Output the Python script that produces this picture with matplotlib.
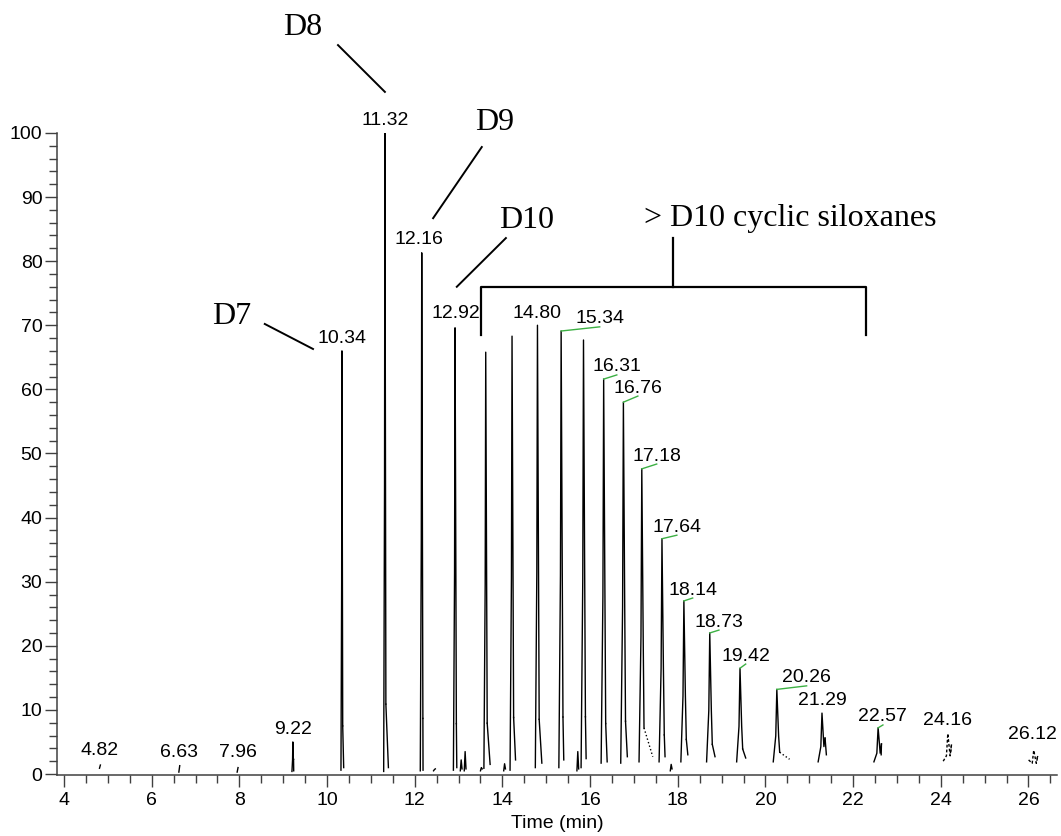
import numpy as np
import matplotlib.pyplot as plt
from matplotlib.ticker import MultipleLocator

# Retention times (min) and relative abundance (%) of the peaks
peak_rt = [4.82, 6.63, 7.96, 9.22, 10.34, 11.32, 12.16, 12.92, 13.62, 14.22,
           14.80, 15.34, 15.85, 16.31, 16.76, 17.18, 17.64, 18.14, 18.73,
           19.42, 20.26, 21.29, 22.57, 24.16, 26.12]
peak_top = [1.4, 1.3, 1.0, 5.0, 66.0, 100.0, 81.3, 69.6, 65.8, 68.3,
            70.0, 69.1, 67.7, 61.6, 58.0, 47.6, 36.7, 27.0, 22.0,
            16.5, 13.2, 9.5, 7.2, 6.3, 3.7]
# baseline level left of the peak, and where the tail ends (dt, level)
peak_base = [0.9, 0.3, 0.3, 0.4, 0.6, 0.4, 0.5, 0.6, 0.9, 0.6,
             1.0, 1.0, 1.0, 1.7, 1.7, 1.9, 1.9, 1.9, 1.9,
             1.9, 1.9, 1.9, 1.9, 2.0, 2.2]
tail_dt = [0.01, 0.01, 0.01, 0.02, 0.04, 0.08, 0.03, 0.04, 0.10, 0.08,
           0.10, 0.06, 0.06, 0.08, 0.09, 0.25, 0.07, 0.09, 0.12,
           0.13, 0.29, 0.10, 0.07, 0.07, 0.06]
tail_y = [1.3, 1.2, 0.9, 0.5, 1.0, 1.0, 0.6, 1.0, 1.5, 2.2,
          1.7, 2.2, 2.4, 1.9, 2.7, 2.7, 2.7, 3.0, 2.7,
          2.5, 2.3, 3.0, 3.0, 3.5, 2.2]
dotted_tail = [17.18, 20.26]
dashed_peak = [24.16, 26.12]

# small unlabelled bumps
minor_rt = [12.45, 13.06, 13.15, 13.52, 14.05, 15.72, 17.85]
minor_top = [0.7, 2.2, 3.5, 1.0, 1.6, 3.5, 1.5]

# labelled peaks: text and label centre (data coords)
label_text = ['4.82', '6.63', '7.96', '9.22', '10.34', '11.32', '12.16', '12.92',
              '14.80', '15.34', '16.31', '16.76', '17.18', '17.64', '18.14',
              '18.73', '19.42', '20.26', '21.29', '22.57', '24.16', '26.12']
label_x = [4.82, 6.62, 7.97, 9.22, 10.34, 11.32, 12.10, 12.94,
           14.79, 16.22, 16.61, 17.09, 17.52, 17.98, 18.34,
           18.94, 19.55, 20.94, 21.29, 22.68, 24.16, 26.10]
label_y = [3.6, 3.4, 3.3, 7.0, 67.9, 102.0, 83.3, 71.8,
           71.9, 71.0, 63.5, 60.2, 49.6, 38.5, 28.7,
           23.7, 18.4, 15.0, 11.5, 8.9, 8.3, 6.1]
green_leader = ['15.34', '16.31', '16.76', '17.18', '17.64', '18.14',
                '18.73', '19.42', '20.26', '22.57']

fig = plt.figure(figsize=(10.61, 8.36), dpi=100)
ax = fig.add_axes([0.0537, 0.073, 0.9425, 0.768])

sans = 'Liberation Sans'
serif = 'Liberation Serif'

for rt, top, base, dt, ty in zip(peak_rt, peak_top, peak_base, tail_dt, tail_y):
    w = 0.02 + 0.006 * max(rt - 10, 0)
    if top < 2:
        ax.plot([rt - 0.01, rt + 0.01], [base, top], color='black', lw=1.0)
        continue
    shoulder = ty + 0.1 * (top - ty) if top > 10 else ty + 0.4 * (top - ty)
    xs = [rt - w, rt - 0.3 * w, rt, rt + 0.5 * w, rt + 0.8 * w]
    ys = [base, 0.45 * top, top, 0.45 * top, shoulder]
    ls = (0, (2, 1.5)) if rt in dashed_peak else '-'
    ax.plot(xs, ys, color='black', lw=1.0, ls=ls)
    tls = ':' if rt in dotted_tail else ls
    ax.plot([rt + 0.8 * w, rt + dt], [shoulder, ty], color='black', lw=1.0, ls=tls)

for rt, top in zip(minor_rt, minor_top):
    ax.plot([rt - 0.02, rt, rt + 0.02], [0.5, top, 0.8], color='black', lw=1.0)

for txt, lx, ly in zip(label_text, label_x, label_y):
    ax.text(lx, ly, txt, ha='center', va='center', fontsize=14,
            family=sans, clip_on=False)
    if txt in green_leader:
        i = peak_rt.index(float(txt))
        ax.plot([peak_rt[i], lx], [peak_top[i], ly - 1.25],
                color='#3cb043', lw=1.0, clip_on=False)

# compound annotations
line_kw = dict(color='black', lw=1.4, clip_on=False)
ax.plot([8.58, 9.68], [70.2, 66.3], **line_kw)
ax.text(7.83, 71.3, 'D7', ha='center', va='center', fontsize=23, family=serif)
ax.plot([10.25, 11.32], [113.7, 106.4], **line_kw)
ax.text(9.45, 116.4, 'D8', ha='center', va='center', fontsize=23, family=serif,
        clip_on=False)
ax.plot([13.53, 12.42], [97.8, 86.7], **line_kw)
ax.text(13.83, 101.6, 'D9', ha='center', va='center', fontsize=23, family=serif,
        clip_on=False)
ax.plot([14.08, 12.96], [83.6, 76.0], **line_kw)
ax.text(14.56, 86.4, 'D10', ha='center', va='center', fontsize=23, family=serif)

ax.plot([13.51, 13.51, 22.29, 22.29], [68.5, 76.0, 76.0, 68.5],
        color='black', lw=1.6, clip_on=False)
ax.plot([17.89, 17.89], [76.0, 83.6], color='black', lw=1.6)
ax.text(20.56, 86.7, '> D10 cyclic siloxanes', ha='center', va='center',
        fontsize=23, family=serif)

ax.set_xlim(3.84, 26.65)
ax.set_ylim(-0.15, 100)
ax.xaxis.set_major_locator(MultipleLocator(2))
ax.xaxis.set_minor_locator(MultipleLocator(0.5))
ax.yaxis.set_major_locator(MultipleLocator(10))
ax.yaxis.set_minor_locator(MultipleLocator(2))

for side in ['top', 'right']:
    ax.spines[side].set_visible(False)
for side in ['left', 'bottom']:
    ax.spines[side].set_color('#404040')
    ax.spines[side].set_linewidth(1.1)

ax.tick_params(which='major', length=8.5, width=1.0, color='#404040',
               labelsize=14, pad=2)
ax.tick_params(which='minor', length=5.5, width=1.0, color='#404040')
ax.tick_params(axis='x', which='major', pad=4)
for lbl in ax.get_xticklabels() + ax.get_yticklabels():
    lbl.set_family(sans)

ax.set_xlabel('Time (min)', fontsize=14, family=sans, labelpad=4)

fig.savefig('out.png', dpi=100)
